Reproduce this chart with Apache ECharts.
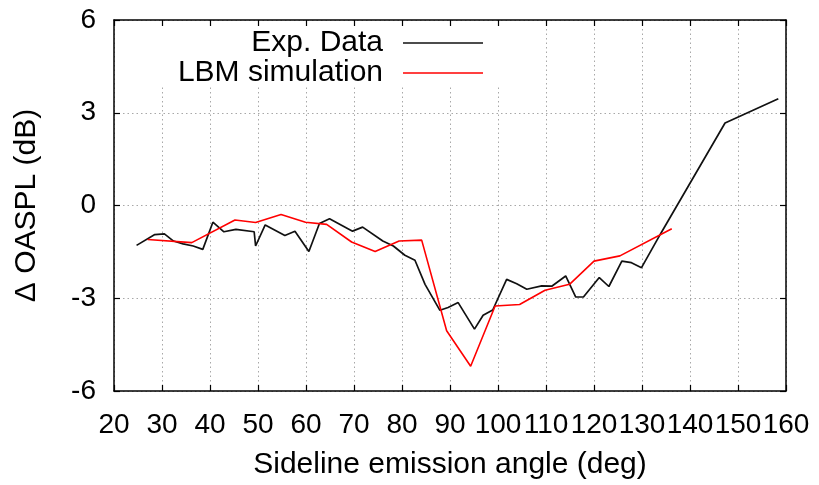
<!DOCTYPE html>
<html>
<head>
<meta charset="utf-8">
<script src="https://cdn.jsdelivr.net/npm/echarts@6/dist/echarts.min.js"></script>
<style>
  html, body { margin: 0; padding: 0; background: #fff; }
  #chart { width: 819px; height: 485px; }
</style>
</head>
<body>
<div id="chart"></div>
<script>
// Measured OASPL differences versus sideline emission angle
const expAngle = [24.7, 28.5, 30.5, 32.4, 34.4, 36.5, 38.5, 40.6, 42.9, 45.4, 49.2, 49.5,
  51.5, 55.6, 57.7, 60.6, 62.8, 64.9, 69.7, 71.8, 76.0, 78.2, 80.6, 82.7, 84.8, 87.9,
  89.6, 91.7, 95.1, 96.9, 98.9, 101.8, 103.9, 106.0, 109.1, 111.2, 114.1, 116.2, 117.8,
  121.1, 123.1, 125.8, 127.8, 129.9, 134.0, 147.3, 158.4];
const expDelta = [-1.29, -0.94, -0.92, -1.15, -1.24, -1.31, -1.42, -0.54, -0.85, -0.77, -0.85, -1.31,
  -0.63, -0.97, -0.83, -1.49, -0.58, -0.43, -0.83, -0.70, -1.15, -1.31, -1.61, -1.77, -2.55, -3.39,
  -3.30, -3.14, -4.00, -3.55, -3.38, -2.39, -2.53, -2.71, -2.60, -2.61, -2.28, -2.96, -2.96,
  -2.33, -2.62, -1.80, -1.85, -2.01, -0.88, 2.67, 3.45];

// Lattice Boltzmann simulation results
const lbmAngle = [27.0, 36.2, 45.2, 49.5, 54.8, 59.9, 64.3, 69.5, 74.4, 79.4, 84.1, 89.3,
  94.3, 99.4, 104.5, 109.8, 114.9, 120.0, 125.4, 136.2];
const lbmDelta = [-1.10, -1.20, -0.47, -0.55, -0.29, -0.54, -0.61, -1.18, -1.49, -1.15, -1.12, -4.05,
  -5.20, -3.25, -3.20, -2.74, -2.55, -1.80, -1.63, -0.75];

// Axis ranges and tick spacing
const xRange = [20, 160];
const xStep = 10;
const yRange = [-6, 6];
const yStep = 3;

const seriesNames = ['Exp. Data', 'LBM simulation'];
const xTitle = 'Sideline emission angle (deg)';
const yTitle = '\u0394 OASPL (dB)';

const FONT = 'Liberation Sans';
const zip = (a, b) => a.map((v, i) => [v, b[i]]);

const frameAxisLine = { show: true, onZero: false, lineStyle: { color: '#000', width: 1.5 } };
const innerTick = { show: true, inside: true, length: 6, lineStyle: { color: '#000', width: 1.2 } };
const gridLine = { show: true, lineStyle: { color: '#a8a8a8', width: 1, type: [1.5, 3] } };

const chart = echarts.init(document.getElementById('chart'), null, { renderer: 'canvas' });
chart.setOption({
  animation: false,
  backgroundColor: '#fff',
  grid: { left: 114, right: 33, top: 20, bottom: 93 },
  xAxis: [{
    type: 'value', min: xRange[0], max: xRange[1], interval: xStep, position: 'bottom',
    name: xTitle, nameLocation: 'middle', nameGap: 59,
    nameTextStyle: { fontFamily: FONT, fontSize: 30, color: '#000' },
    axisLine: frameAxisLine, axisTick: innerTick, splitLine: gridLine,
    axisLabel: { fontFamily: FONT, fontSize: 28, color: '#000', margin: 20 }
  }, {
    type: 'value', min: xRange[0], max: xRange[1], interval: xStep, position: 'top', z: 3,
    axisLine: frameAxisLine, axisTick: innerTick, splitLine: { show: false },
    axisLabel: { show: false }
  }],
  yAxis: [{
    type: 'value', min: yRange[0], max: yRange[1], interval: yStep, position: 'left',
    name: yTitle, nameLocation: 'middle', nameGap: 72,
    nameTextStyle: { fontFamily: FONT, fontSize: 30, color: '#000' },
    axisLine: frameAxisLine, axisTick: innerTick, splitLine: gridLine,
    axisLabel: { fontFamily: FONT, fontSize: 28, color: '#000', margin: 18 }
  }, {
    type: 'value', min: yRange[0], max: yRange[1], interval: yStep, position: 'right', z: 3,
    axisLine: frameAxisLine, axisTick: innerTick, splitLine: { show: false },
    axisLabel: { show: false }
  }],
  // opaque key area above the grid lines
  graphic: [{
    type: 'rect', z: 1, silent: true,
    shape: { x: 158, y: 21, width: 342, height: 65 },
    style: { fill: '#fff' }
  }],
  legend: {
    orient: 'vertical', align: 'right', right: 331, top: 23,
    icon: 'rect', itemWidth: 80, itemHeight: 1.5, itemGap: 0,
    textStyle: { fontFamily: FONT, fontSize: 30, color: '#000', padding: [0, 15, 0, 0] },
    data: seriesNames
  },
  series: [{
    name: seriesNames[0], type: 'line', symbol: 'none', z: 4,
    lineStyle: { color: '#111', width: 1.7 }, itemStyle: { color: '#111' },
    data: zip(expAngle, expDelta)
  }, {
    name: seriesNames[1], type: 'line', symbol: 'none', z: 5,
    lineStyle: { color: '#ff0000', width: 1.6 }, itemStyle: { color: '#ff0000' },
    data: zip(lbmAngle, lbmDelta)
  }]
});
</script>
</body>
</html>
